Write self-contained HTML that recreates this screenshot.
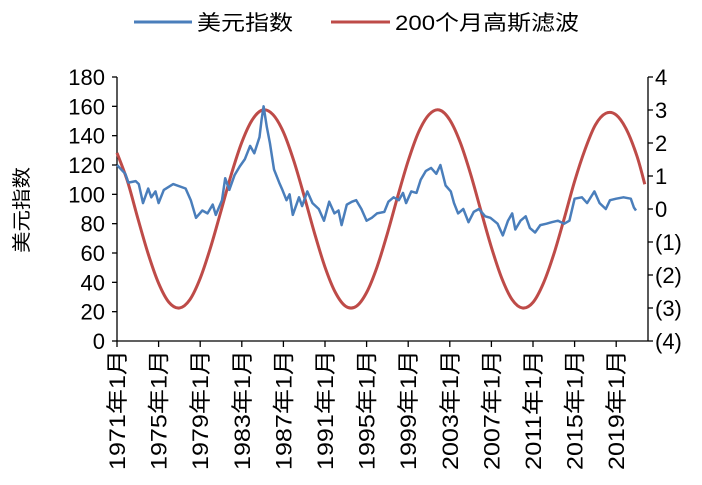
<!DOCTYPE html>
<html><head><meta charset="utf-8"><style>
html,body{margin:0;padding:0;background:#fff;}
svg text{font-family:"Liberation Sans","Noto Sans CJK SC",sans-serif;fill:#000;}
</style></head><body>
<svg id="chart" width="702" height="480" xmlns="http://www.w3.org/2000/svg">
<g id="legend">
<line x1="134" y1="22" x2="192" y2="22" stroke="#4a7ebb" stroke-width="3"/>
<text x="197" y="30" font-size="21" textLength="96" lengthAdjust="spacingAndGlyphs">美元指数</text>
<line x1="331" y1="22" x2="390" y2="22" stroke="#be4b48" stroke-width="3"/>
<text x="395" y="30" font-size="21" textLength="184" lengthAdjust="spacingAndGlyphs">200个月高斯滤波</text>
</g>
<text transform="translate(28,210) rotate(-90)" text-anchor="middle" font-size="19" textLength="86" lengthAdjust="spacingAndGlyphs">美元指数</text>
<g id="axes"></g>
<g id="series"></g>
</svg>
<script>
const leftTicks=[0,20,40,60,80,100,120,140,160,180];
const rightTicks=[-4,-3,-2,-1,0,1,2,3,4];
const rightTickLabels=["(4)","(3)","(2)","(1)","0","1","2","3","4"];
const xTickYears=[1971,1975,1979,1983,1987,1991,1995,1999,2003,2007,2011,2015,2019];
const dollarYears=[1971.0,1971.8,1972.1,1972.8,1973.1,1973.5,1974.0,1974.3,1974.7,1975.0,1975.5,1976.4,1977.6,1978.1,1978.6,1979.2,1979.7,1980.2,1980.5,1981.1,1981.4,1981.8,1982.3,1982.8,1983.3,1983.8,1984.2,1984.7,1984.9,1985.1,1985.4,1985.7,1986.1,1986.6,1986.9,1987.3,1987.6,1987.9,1988.5,1988.8,1989.3,1989.8,1990.4,1990.9,1991.4,1991.9,1992.3,1992.6,1993.1,1993.6,1994.0,1994.5,1995.0,1995.5,1996.0,1996.7,1997.1,1997.6,1998.1,1998.5,1998.8,1999.3,1999.8,2000.2,2000.7,2001.2,2001.7,2002.1,2002.6,2003.1,2003.4,2003.8,2004.3,2004.8,2005.3,2005.8,2006.4,2006.9,2007.6,2008.1,2008.6,2009.0,2009.3,2009.8,2010.3,2010.7,2011.2,2011.7,2012.3,2012.8,2013.4,2014.0,2014.5,2015.0,2015.7,2016.2,2016.9,2017.4,2018.0,2018.4,2019.0,2019.7,2020.4,2020.7,2020.9];
const dollarValues=[120,114,108,109,107,94,104,98,102,94,103,107,104,96,84,89,87,93,86,96,111,103,113,119,124,133,128,139,151,160,146,135,117,108,103,96,100,86,98,92,102,94,90,82,95,87,89,79,93,95,96,90,82,84,87,88,95,98,96,101,94,102,101,110,116,118,114,120,106,102,94,87,90,81,88,90,85,84,80,72,82,87,76,82,85,77,74,79,80,81,82,80,82,97,98,94,102,94,90,96,97,98,97,91,89];
const gaussYears=[1971,1972,1973,1974,1975,1976,1977,1978,1979,1980,1981,1982,1983,1984,1985,1986,1987,1988,1989,1990,1991,1992,1993,1994,1995,1996,1997,1998,1999,2000,2001,2002,2003,2004,2005,2006,2007,2008,2009,2010,2011,2012,2013,2014,2015,2016,2017,2018,2019,2020,2021,2021.75];
const gaussValues=[1.7,0.85,-0.28,-1.36,-2.25,-2.83,-3.0,-2.75,-2.1,-1.16,-0.06,1.06,2.02,2.7,3.0,2.86,2.33,1.46,0.39,-0.74,-1.76,-2.53,-2.95,-2.95,-2.53,-1.76,-0.74,0.39,1.46,2.33,2.86,3.0,2.7,2.02,1.06,-0.06,-1.16,-2.1,-2.75,-3.0,-2.83,-2.25,-1.37,-0.29,0.84,1.8,2.55,2.9,2.85,2.4,1.6,0.75];

const NS="http://www.w3.org/2000/svg";
const X0=117,X1=648,Y0=341,Y1=77;
const xs=y=>X0+(y-1971)*10.4;
const yl=v=>Y0-(v/180)*(Y0-Y1);
const yr=v=>Y0-((v+4)/8)*(Y0-Y1);
function mk(tag,attrs,parent){const e=document.createElementNS(NS,tag);for(const k in attrs)e.setAttribute(k,attrs[k]);parent.appendChild(e);return e;}
const axes=document.getElementById('axes'),series=document.getElementById('series');
let e;
e=mk('line',{x1:X0,y1:Y1,x2:X0,y2:Y0,stroke:'#000','stroke-width':1.3},axes);


e=mk('line',{x1:X1,y1:Y1,x2:X1,y2:Y0,stroke:'#000','stroke-width':1.3},axes);


e=mk('line',{x1:X0,y1:Y0,x2:X1,y2:Y0,stroke:'#000','stroke-width':1.3},axes);


leftTicks.forEach(v=>{
 const y=yl(v);
 e=mk('line',{x1:X0-5,y1:y,x2:X0,y2:y,stroke:'#000','stroke-width':1.3},axes);
 
 
 e=mk('text',{x:105,y:y+8,'text-anchor':'end','font-size':22},axes);
 e.textContent=v;
 
 
});
rightTicks.forEach((v,i)=>{
 const y=yr(v);
 e=mk('line',{x1:X1,y1:y,x2:X1+5,y2:y,stroke:'#000','stroke-width':1.3},axes);
 
 
 e=mk('text',{x:655,y:y+8,'font-size':22},axes);
 e.textContent=rightTickLabels[i];
 
 
});
xTickYears.forEach(yv=>{
 const x=xs(yv);
 e=mk('line',{x1:x,y1:Y0,x2:x,y2:Y0+6,stroke:'#000','stroke-width':1.3},axes);
 
 
 e=mk('text',{transform:`translate(${x+8},350) rotate(-90)`,'text-anchor':'end','font-size':22,textLength:120,lengthAdjust:'spacingAndGlyphs'},axes);
 e.textContent=yv+'年1月';
 
 
});
const gp=gaussYears.map((yv,i)=>[xs(yv),yr(gaussValues[i])]);
let d=`M${gp[0][0]},${gp[0][1]}`;
for(let i=0;i<gp.length-1;i++){
 const p0=gp[Math.max(0,i-1)],p1=gp[i],p2=gp[i+1],p3=gp[Math.min(gp.length-1,i+2)];
 d+=` C${p1[0]+(p2[0]-p0[0])/6},${p1[1]+(p2[1]-p0[1])/6} ${p2[0]-(p3[0]-p1[0])/6},${p2[1]-(p3[1]-p1[1])/6} ${p2[0]},${p2[1]}`;
}
e=mk('path',{d:d,fill:'none',stroke:'#be4b48','stroke-width':3},series);


const bp=dollarYears.map((yv,i)=>`${xs(yv).toFixed(1)},${yl(dollarValues[i]).toFixed(1)}`).join(' ');
e=mk('polyline',{points:bp,fill:'none',stroke:'#4a7ebb','stroke-width':2.5,'stroke-linejoin':'round'},series);


</script>
</body></html>
